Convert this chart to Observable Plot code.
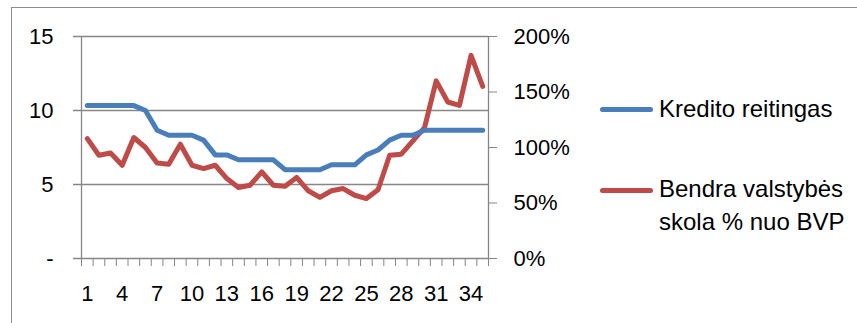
<!DOCTYPE html>
<html>
<head>
<meta charset="utf-8">
<script src="https://cdn.jsdelivr.net/npm/d3@7"></script>
<script src="https://cdn.jsdelivr.net/npm/@observablehq/plot@0.6"></script>
<style>
  html, body { margin: 0; padding: 0; background: #fff; }
  #chart { position: relative; width: 857px; height: 323px; overflow: hidden;
           font-family: "Liberation Sans", Arial, sans-serif; }
  #frame { position: absolute; left: 11px; top: 7px; width: 900px; height: 400px;
           border: 1.5px solid #8c8c8c; box-sizing: border-box; }
  #chart svg { position: absolute; left: 0; top: 0; }
  .legend-item { position: absolute; left: 600px; font-size: 24px; line-height: 33px; color: #000; white-space: nowrap; }
  .legend-item .swatch { position: absolute; left: 0; width: 53px; height: 5px; border-radius: 3px; }
  .legend-item .label { margin-left: 59px; }
</style>
</head>
<body>
<div id="chart"><div id="frame"></div></div>
<script>
// Periods 1..35
const periods = Array.from({length: 35}, (_, i) => i + 1);

// Credit rating (left axis)
const rating = [10.33, 10.33, 10.33, 10.33, 10.33, 10, 8.67, 8.33, 8.33, 8.33,
                8, 7, 7, 6.67, 6.67, 6.67, 6.67, 6, 6, 6,
                6, 6.33, 6.33, 6.33, 7, 7.33, 8, 8.33, 8.33, 8.67,
                8.67, 8.67, 8.67, 8.67, 8.67];

// General government debt, % of GDP (right axis)
const debtPct = [108, 93, 95, 84, 109, 100, 86, 85, 103, 84,
                 81, 84, 72, 64, 66, 78, 66, 65, 73, 61,
                 55, 61, 63, 57, 54, 62, 93, 94, 106, 118,
                 160, 141, 138, 183, 155];

const seriesNames = ["Kredito reitingas", "Bendra valstybės skola % nuo BVP"];
const seriesColors = ["#4A7EBB", "#BE4B48"];

const leftTicks = [0, 5, 10, 15];
const rightTicks = [0, 50, 100, 150, 200];
const xLabelTicks = periods.filter((d, i) => i % 3 === 0);

const leftMax = 15, rightMax = 200;
const toLeft = p => p * leftMax / rightMax;

const xDomain = [0.5, 35.5];
const bandEdges = d3.range(xDomain[0], xDomain[1] + 0.01, 1);

const ratingData = periods.map((p, i) => ({p, v: rating[i]}));
const debtData = periods.map((p, i) => ({p, v: toLeft(debtPct[i])}));

const grey = "#868686";

const chart = Plot.plot({
  width: 857,
  height: 323,
  marginLeft: 81,
  marginRight: 369,
  marginTop: 36,
  marginBottom: 65,
  style: {fontFamily: "Liberation Sans, Arial, sans-serif", fontSize: "22px", background: "transparent", overflow: "visible"},
  x: {type: "linear", domain: xDomain, label: null},
  y: {domain: [0, leftMax], label: null},
  marks: [
    // horizontal gridlines, extended over the left tick marks
    Plot.ruleY(leftTicks, {stroke: grey, strokeWidth: 1.3, insetLeft: -8}),
    // vertical axis lines on both sides
    Plot.ruleX([xDomain[0], xDomain[1]], {stroke: grey, strokeWidth: 1.3}),
    // left axis
    Plot.axisY(leftTicks, {anchor: "left", tickSize: 8, tickPadding: 20, stroke: grey, fill: "#000",
      tickFormat: d => d === 0 ? "-" : String(d), label: null}),
    // right axis (percent)
    Plot.axisY(rightTicks.map(toLeft), {anchor: "right", tickSize: 8, tickPadding: 17, stroke: grey, fill: "#000",
      tickFormat: d => Math.round(d * rightMax / leftMax) + "%", label: null}),
    // category boundary tick marks
    Plot.axisX(bandEdges, {anchor: "bottom", tickSize: 8, stroke: grey, tickFormat: () => "", label: null}),
    // category labels
    Plot.axisX(xLabelTicks, {anchor: "bottom", tickSize: 0, tickPadding: 27, fill: "#000", label: null}),
    Plot.line(debtData, {x: "p", y: "v", stroke: seriesColors[1], strokeWidth: 5, strokeLinejoin: "round", strokeLinecap: "round"}),
    Plot.line(ratingData, {x: "p", y: "v", stroke: seriesColors[0], strokeWidth: 5, strokeLinejoin: "round", strokeLinecap: "round"})
  ]
});

const host = document.getElementById("chart");
host.appendChild(chart);

// legend
const legendTops = [92, 172];
const swatchOffsets = [14.5, 15.5];
const legendLines = [["Kredito reitingas"], ["Bendra valstybės", "skola % nuo BVP"]];
seriesNames.forEach((name, i) => {
  const item = document.createElement("div");
  item.className = "legend-item";
  item.style.top = legendTops[i] + "px";
  const sw = document.createElement("div");
  sw.className = "swatch";
  sw.style.background = seriesColors[i];
  sw.style.top = swatchOffsets[i] + "px";
  const lab = document.createElement("div");
  lab.className = "label";
  lab.title = name;
  lab.innerHTML = legendLines[i].join("<br>");
  item.appendChild(sw);
  item.appendChild(lab);
  host.appendChild(item);
});
</script>
</body>
</html>
